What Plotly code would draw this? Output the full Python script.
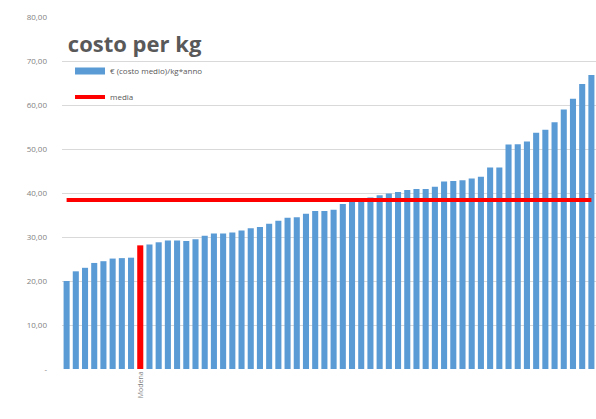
import plotly.graph_objects as go

# --- data ---
valori = [20.0, 22.2, 23.0, 24.1, 24.5, 25.1, 25.2, 25.3, 28.1, 28.3,
          28.8, 29.2, 29.2, 29.1, 29.5, 30.3, 30.8, 30.8, 31.0, 31.5,
          32.0, 32.3, 33.0, 33.7, 34.4, 34.5, 35.3, 35.9, 35.9, 36.2,
          37.5, 38.5, 38.7, 39.0, 39.5, 39.9, 40.2, 40.7, 40.9, 40.9,
          41.4, 42.6, 42.7, 42.9, 43.3, 43.7, 45.8, 45.8, 51.0, 51.1,
          51.7, 53.7, 54.4, 56.1, 59.0, 61.4, 64.8, 66.8]
categorie = list(range(len(valori)))
evidenziato = 8            # index of the highlighted bar
etichetta_evidenziata = "Modena"
media = [38.4] * len(valori)
y_ticks = [0, 10, 20, 30, 40, 50, 60, 70, 80]
y_tick_labels = ["-", "10,00", "20,00", "30,00", "40,00", "50,00", "60,00", "70,00", "80,00"]

BLUE = "#5B9BD5"
RED = "#FF0000"
colors = [RED if i == evidenziato else BLUE for i in categorie]
nome_serie = "€ (costo medio)/kg*anno"

fig = go.Figure()
fig.add_trace(go.Bar(
    x=categorie, y=valori, marker=dict(color=colors, line=dict(width=0)),
    name=nome_serie, width=0.66, showlegend=False,
))
# legend entry drawn as a wide rectangle (Excel style)
fig.add_trace(go.Scatter(
    x=[None], y=[None], mode="lines", line=dict(color=BLUE, width=7),
    name=nome_serie, legendgroup="a",
))
fig.add_trace(go.Scatter(
    x=categorie, y=media, mode="lines", line=dict(color=RED, width=4),
    name="media", legendgroup="b",
))

fig.update_layout(
    width=596, height=419,
    margin=dict(l=62, r=0, t=17, b=50, autoexpand=False),
    plot_bgcolor="white", paper_bgcolor="white",
    showlegend=True,
    legend=dict(x=0.015, y=0.888, xanchor="left", yanchor="top",
                font=dict(family="Open Sans", size=8, color="#595959"),
                bgcolor="rgba(0,0,0,0)", tracegroupgap=7, itemwidth=30),
    title=dict(text="<b>costo per kg</b>", xref="paper", x=0.011, xanchor="left",
               yref="container", y=0.895, yanchor="middle",
               font=dict(family="Open Sans", size=22, color="#595959")),
    bargap=0.34,
)
fig.update_yaxes(range=[0, 80], tickvals=y_ticks, ticktext=y_tick_labels,
                 showgrid=True, gridcolor="#D9D9D9", gridwidth=1,
                 zeroline=False, showline=False, ticks="", automargin=False,
                 tickfont=dict(family="Open Sans", size=8, color="#7F7F7F"),
                 ticklabelstandoff=14)
fig.update_xaxes(range=[-0.5, len(valori) - 0.5], tickvals=[evidenziato],
                 ticktext=[etichetta_evidenziata], tickangle=-90, automargin=False,
                 showgrid=False, zeroline=False, showline=False, ticks="",
                 tickfont=dict(family="Open Sans", size=7, color="#7F7F7F"))

fig.write_html("out.html", config={"displayModeBar": False},
               post_script="document.body.style.margin='0';document.body.style.overflow='hidden';")
